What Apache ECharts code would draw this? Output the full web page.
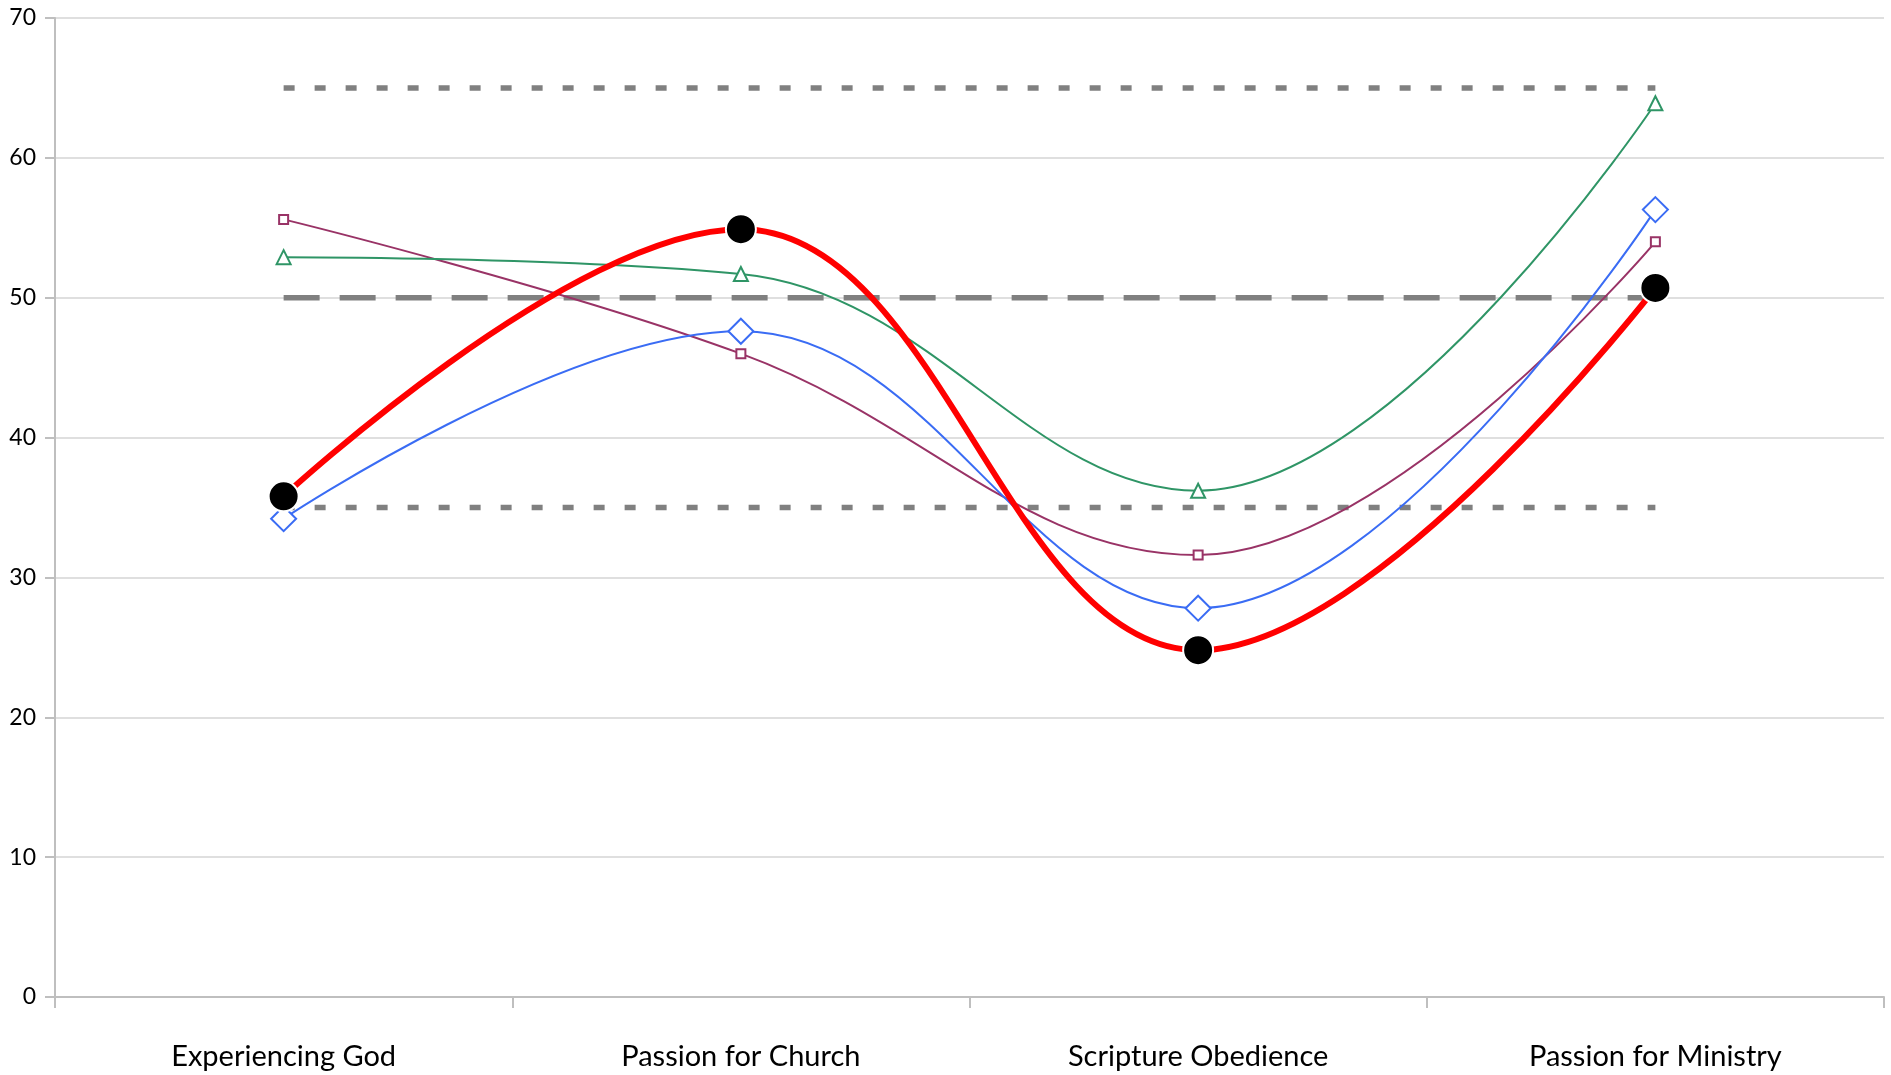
<!DOCTYPE html>
<html>
<head>
<meta charset="utf-8">
<script src="https://cdn.jsdelivr.net/npm/echarts@6/dist/echarts.min.js"></script>
<style>
html,body{margin:0;padding:0;background:#fff;}
#chart{width:1891px;height:1075px;}
</style>
</head>
<body>
<div id="chart"></div>
<script>
var categories = ['Experiencing God','Passion for Church','Scripture Obedience','Passion for Ministry'];
var redValues = [35.8, 54.9, 24.8, 50.7];
var blueValues = [34.2, 47.6, 27.8, 56.3];
var purpleValues = [55.6, 46.0, 31.6, 54.0];
var greenValues = [52.9, 51.7, 36.2, 63.9];
var upperRef = [65, 65, 65, 65];
var midRef = [50, 50, 50, 50];
var lowerRef = [35, 35, 35, 35];
var yTicks = [0, 10, 20, 30, 40, 50, 60, 70];

var COLOR = {
	RED:'#ff0000',
	BLUE:'#3a6cf4',
	PURPLE:'#993366',
	GREEN:'#2f9566',
	REF:'#808080',
	AXIS:'#bfbfbf',
	GRID:'#d4d4d4'
};

function refLine(data,dash){
	return {
		type:'line',
		data:data,
		symbol:'none',
		silent:true,
		z:1,
		lineStyle:{color:COLOR.REF,width:5.5,type:dash,cap:'butt'}
	};
}

function thinLine(data,color,symbol,size){
	return {
		type:'line',
		data:data,
		smooth:0.4,
		symbol:symbol,
		symbolSize:size,
		showAllSymbol:true,
		z:3,
		lineStyle:{color:color,width:2},
		itemStyle:{color:'#ffffff',borderColor:color,borderWidth:2}
	};
}

var myChart = echarts.init(document.getElementById('chart'));
myChart.setOption({
	animation:false,
	grid:{left:55,right:7,top:18,bottom:78,containLabel:false},
	xAxis:{
		type:'category',
		data:categories,
		boundaryGap:true,
		axisLine:{show:true,lineStyle:{color:COLOR.AXIS,width:2}},
		axisTick:{show:true,length:11,alignWithLabel:false,lineStyle:{color:COLOR.AXIS,width:2}},
		axisLabel:{color:'#000',fontSize:29,fontFamily:'Lato',margin:45},
		splitLine:{show:false}
	},
	yAxis:{
		type:'value',
		min:yTicks[0],
		max:yTicks[yTicks.length-1],
		interval:10,
		axisLine:{show:true,lineStyle:{color:COLOR.AXIS,width:2}},
		axisTick:{show:true,length:10,lineStyle:{color:COLOR.AXIS,width:2}},
		axisLabel:{color:'#000',fontSize:23,fontFamily:'Lato',margin:19},
		splitLine:{show:true,lineStyle:{color:COLOR.GRID,width:1.5}}
	},
	series:[
		refLine(upperRef,[11,20]),
		refLine(midRef,[36,20]),
		refLine(lowerRef,[11,20]),
		thinLine(purpleValues,COLOR.PURPLE,'rect',9),
		thinLine(greenValues,COLOR.GREEN,'triangle',14),
		thinLine(blueValues,COLOR.BLUE,'diamond',25),
		{
			type:'line',
			data:redValues,
			smooth:0.4,
			symbol:'circle',
			symbolSize:30,
			z:4,
			lineStyle:{color:COLOR.RED,width:6},
			itemStyle:{color:'#000000',borderColor:'#ffffff',borderWidth:2}
		}
	]
});
</script>
</body>
</html>
